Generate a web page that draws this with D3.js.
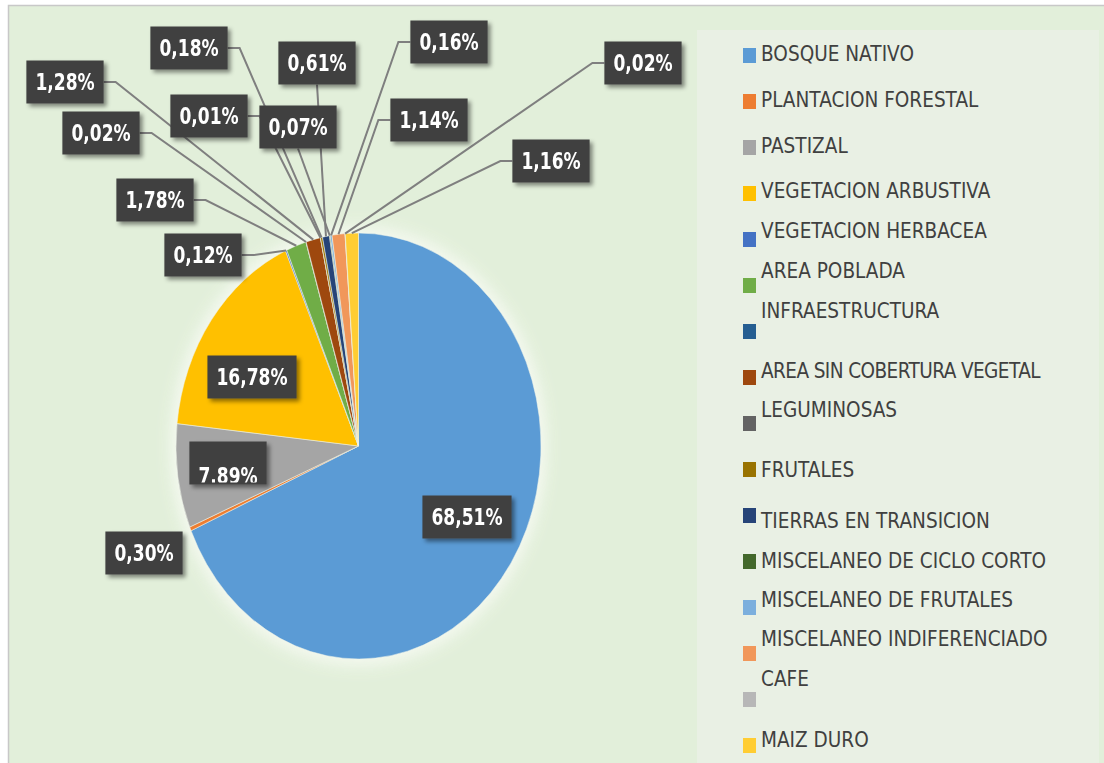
<!DOCTYPE html>
<html>
<head>
<meta charset="utf-8">
<script src="https://cdn.jsdelivr.net/npm/d3@7"></script>
<style>
  body { margin: 0; background: #fff; }
  text { font-family: "DejaVu Sans Condensed", "DejaVu Sans", sans-serif; }
</style>
</head>
<body>
<div id="chart"></div>
<script>
// data (percent of area, clockwise from 12 o'clock)
var categories = ["BOSQUE NATIVO", "PLANTACION FORESTAL", "PASTIZAL", "VEGETACION ARBUSTIVA",
  "VEGETACION HERBACEA", "AREA POBLADA", "INFRAESTRUCTURA", "AREA SIN COBERTURA VEGETAL",
  "LEGUMINOSAS", "FRUTALES", "TIERRAS EN TRANSICION", "MISCELANEO DE CICLO CORTO",
  "MISCELANEO DE FRUTALES", "MISCELANEO INDIFERENCIADO", "CAFE", "MAIZ DURO"];
var values = [68.51, 0.30, 7.89, 16.78, 0.12, 1.78, 0.02, 1.28, 0.01, 0.18, 0.61, 0.07, 0.16, 1.14, 0.02, 1.16];
var colors = ["#5b9bd5", "#ed7d31", "#a5a5a5", "#ffc000", "#4472c4", "#70ad47", "#255e91", "#9e480e",
  "#636363", "#997300", "#264478", "#43682b", "#7cafdd", "#f1975a", "#b7b7b7", "#ffcd33"];

// where the data label boxes sit (screen px), third value = text shift inside box
var labelPos = [[467, 517], [144, 553], [228, 463, 13], [252, 377], [203, 255], [155, 200],
  [101, 133], [65, 82], [209, 116], [189, 48], [317, 63], [298, 127], [449, 42], [429, 120],
  [643, 63], [551, 161]];
// legend text is not always centred on its marker
var legendDy = [-2, -2, -2, -3, -9, -15, -21, -7, -14, 0, 5, -1, -8, -15, -21, -6];

var width = 1104, height = 763;
var cx = 358.5, cy = 446, r = 182.5, sy = 213 / 182.5;

var svg = d3.select("#chart")
  .append("svg")
    .attr("width", width)
    .attr("height", height);

var defs = svg.append("defs");
var shadow = defs.append("filter").attr("id", "shadow")
  .attr("x", "-20%").attr("y", "-20%").attr("width", "150%").attr("height", "160%");
shadow.append("feDropShadow")
  .attr("dx", 3).attr("dy", 3).attr("stdDeviation", 2)
  .attr("flood-color", "#000").attr("flood-opacity", 0.45);
defs.append("filter").attr("id", "glow")
  .attr("x", "-20%").attr("y", "-20%").attr("width", "140%").attr("height", "140%")
  .append("feGaussianBlur").attr("stdDeviation", 7);

// chart frame
svg.append("rect")
  .attr("x", 8.5).attr("y", 5.5)
  .attr("width", 1200).attr("height", 800)
  .style("fill", "#e2efda")
  .style("stroke", "#c8c8c8")
  .style("stroke-width", 1.5);

// legend area
svg.append("rect")
  .attr("x", 697).attr("y", 30)
  .attr("width", 402).attr("height", 740)
  .style("fill", "#e9f0e4");

// pie
var pie = d3.pie().sort(null).value(function(d) { return d; });
var arcs = pie(values);
var arc = d3.arc().innerRadius(0).outerRadius(r);

var g = svg.append("g")
  .attr("transform", "translate(" + cx + "," + cy + ") scale(1," + sy + ")");

g.append("circle")
  .attr("r", r + 6)
  .style("fill", "#f6faf2")
  .style("opacity", 0.9)
  .attr("filter", "url(#glow)");

g.selectAll("path")
  .data(arcs)
  .enter()
  .append("path")
    .attr("d", arc)
    .style("fill", function(d, i) { return colors[i]; })
    .style("stroke", "#eef3e8")
    .style("stroke-width", 0.5);

// labels
var fmt = d3.formatLocale({decimal: ",", thousands: ".", grouping: [3], currency: ["", ""]}).format(".2f");

function rimPoint(d) {
  var a = (d.startAngle + d.endAngle) / 2;
  return [cx + r * Math.sin(a), cy - r * sy * Math.cos(a)];
}

var boxH = 43;
var labels = svg.append("g");
var lines = labels.append("g");
var boxes = labels.append("g");

arcs.forEach(function(d, i) {
  var p = labelPos[i];
  var lg = boxes.append("g").attr("filter", "url(#shadow)");
  var rect = lg.append("rect").style("fill", "#404040");
  var t = lg.append("text")
    .attr("text-anchor", "middle")
    .attr("dy", "0.36em")
    .attr("transform", "translate(" + p[0] + "," + (p[1] + (p[2] || 0)) + ") scale(1," + sy + ")")
    .style("font-size", "19px")
    .style("font-weight", "bold")
    .style("fill", "#fff")
    .text(fmt(values[i]) + "%");
  var w = t.node().getComputedTextLength() + 18;
  var x0 = p[0] - w / 2, y0 = p[1] - boxH / 2;
  rect.attr("x", x0).attr("y", y0).attr("width", w).attr("height", boxH);

  if (p[2]) {
    var clipId = "clip" + i;
    defs.append("clipPath").attr("id", clipId)
      .append("rect").attr("x", x0).attr("y", y0).attr("width", w).attr("height", boxH - 2);
    lg.append("g").attr("clip-path", "url(#" + clipId + ")").node().appendChild(t.node());
  }

  // leader line, only for boxes outside the pie and away from their slice
  var ex = (p[0] - cx) / r, ey = (p[1] - cy) / (r * sy);
  if (ex * ex + ey * ey < 1) return;
  var rim = rimPoint(d);
  var ddx = Math.max(x0 - rim[0], 0, rim[0] - (x0 + w));
  var ddy = Math.max(y0 - rim[1], 0, rim[1] - (y0 + boxH));
  if (Math.sqrt(ddx * ddx + ddy * ddy) < 25) return;
  var pts;
  if (rim[0] >= x0 && rim[0] <= x0 + w) {
    pts = [[p[0], y0 + boxH], rim];
  } else if (rim[0] > x0 + w) {
    pts = [[x0 + w, p[1]], [x0 + w + 12, p[1]], rim];
  } else {
    pts = [[x0, p[1]], [x0 - 12, p[1]], rim];
  }
  lines.append("path")
    .attr("d", d3.line()(pts))
    .style("fill", "none")
    .style("stroke", "#7f7f7f")
    .style("stroke-width", 2);
});

// legend
var legend = svg.append("g");
var step = 46;
legend.selectAll("rect")
  .data(categories)
  .enter()
  .append("rect")
    .attr("x", 743)
    .attr("y", function(d, i) { return 48 + i * step; })
    .attr("width", 13)
    .attr("height", 15)
    .style("fill", function(d, i) { return colors[i]; });

legend.selectAll("text")
  .data(categories)
  .enter()
  .append("text")
    .attr("transform", function(d, i) {
      return "translate(761," + (55 + i * step + legendDy[i]) + ") scale(1," + sy + ")";
    })
    .attr("dy", "0.36em")
    .style("font-family", "'DejaVu Sans', sans-serif")
    .style("font-size", "18.5px")
    .style("letter-spacing", function(d) { return d === "AREA SIN COBERTURA VEGETAL" ? "-0.6px" : null; })
    .style("fill", "#404040")
    .text(function(d) { return d; });
</script>
</body>
</html>
